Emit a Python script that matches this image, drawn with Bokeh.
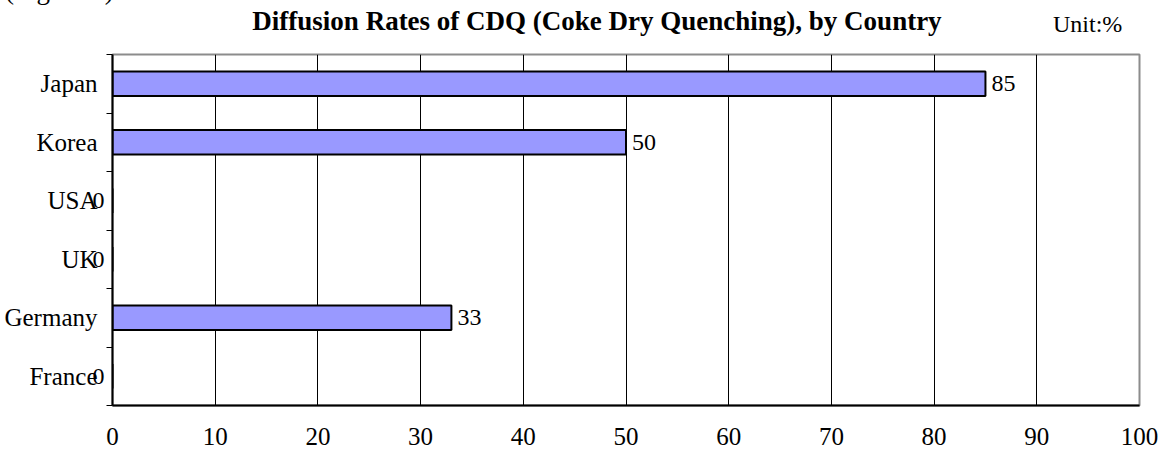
from bokeh.plotting import figure
from bokeh.models import (ColumnDataSource, Label, FixedTicker, Range1d, LinearAxis, Div)
from bokeh.layouts import column
from bokeh.embed import file_html
from bokeh.resources import INLINE

title_text = "Diffusion Rates of CDQ (Coke Dry Quenching), by Country"
unit_text = "Unit:%"
figure_text = "(Figure 4)"
countries = ["Japan", "Korea", "USA", "UK", "Germany", "France"]
rates = [85, 50, 0, 0, 33, 0]
x_ticks = [0, 10, 20, 30, 40, 50, 60, 70, 80, 90, 100]

n = len(countries)
ypos = [n - i - 0.5 for i in range(n)]
src = ColumnDataSource(dict(country=countries, rate=rates, y=ypos))

SERIF = "Liberation Serif"
HEADER_H = 40

p = figure(width=1163, height=455 - HEADER_H, output_backend="svg", toolbar_location=None,
           x_range=Range1d(0, 100), y_range=Range1d(0, n),
           min_border_left=112, min_border_right=24, min_border_top=14,
           min_border_bottom=50)

p.hbar(y="y", right="rate", left=0, height=0.42, source=src,
       fill_color="#9999FF", line_color="black", line_width=2)

# value labels for non-zero bars (inside the plot area)
for v, y in zip(rates, ypos):
    if v > 0:
        p.add_layout(Label(x=v, y=y, text=str(v), x_offset=6,
                           text_font=SERIF, text_font_size="24px",
                           text_baseline="middle", text_color="black"))

# x axis
p.xaxis.ticker = FixedTicker(ticks=x_ticks)
p.xaxis.major_tick_out = 0
p.xaxis.major_tick_in = 0
p.xaxis.minor_tick_out = 0
p.xaxis.minor_tick_in = 0
p.xaxis.axis_line_width = 2
p.xaxis.axis_line_color = "black"
p.xaxis.major_label_text_font = SERIF
p.xaxis.major_label_text_font_size = "25px"
p.xaxis.major_label_standoff = 22
p.xaxis.major_label_text_color = "black"

# inner y axis: the axis line, boundary ticks and the labels of zero values
ya = p.yaxis[0]
ya.ticker = FixedTicker(ticks=ypos, minor_ticks=list(range(n + 1)))
ya.major_label_overrides = {y: (str(v) if v == 0 else "") for y, v in zip(ypos, rates)}
ya.major_tick_out = 0
ya.major_tick_in = 0
ya.minor_tick_out = 6
ya.minor_tick_in = 0
ya.minor_tick_line_color = "black"
ya.minor_tick_line_width = 1
ya.axis_line_width = 2
ya.axis_line_color = "black"
ya.major_label_text_font = SERIF
ya.major_label_text_font_size = "24px"
ya.major_label_standoff = 2
ya.major_label_text_color = "black"

# outer y axis: country names
yb = LinearAxis(ticker=FixedTicker(ticks=ypos),
                major_label_overrides={y: c for y, c in zip(ypos, countries)},
                axis_line_color=None, major_tick_out=0, major_tick_in=0,
                minor_tick_out=0, minor_tick_in=0,
                major_label_text_font=SERIF, major_label_text_font_size="25px",
                major_label_standoff=-8, major_label_text_color="black")
p.add_layout(yb, "left")

p.xgrid.ticker = FixedTicker(ticks=x_ticks)
p.xgrid.grid_line_color = "black"
p.xgrid.grid_line_width = 1
p.ygrid.grid_line_color = None

p.outline_line_color = "#8c8c8c"
p.outline_line_width = 2

header_html = f"""
<div style="position:relative;width:1163px;height:{HEADER_H}px;overflow:hidden;
            font-family:'{SERIF}';color:black;">
  <span style="position:absolute;left:5px;top:-23px;font-size:27px;line-height:1;
               white-space:nowrap;">{figure_text}</span>
  <span style="position:absolute;left:0;width:1194px;top:8px;text-align:center;
               font-size:27px;font-weight:bold;line-height:1;
               white-space:nowrap;">{title_text}</span>
  <span style="position:absolute;left:1053px;top:12px;font-size:24px;line-height:1;
               white-space:nowrap;">{unit_text}</span>
</div>
"""
header = Div(text=header_html, width=1163, height=HEADER_H, margin=0)

layout = column(header, p, spacing=0)
open("out.html", "w").write(file_html(layout, INLINE))
